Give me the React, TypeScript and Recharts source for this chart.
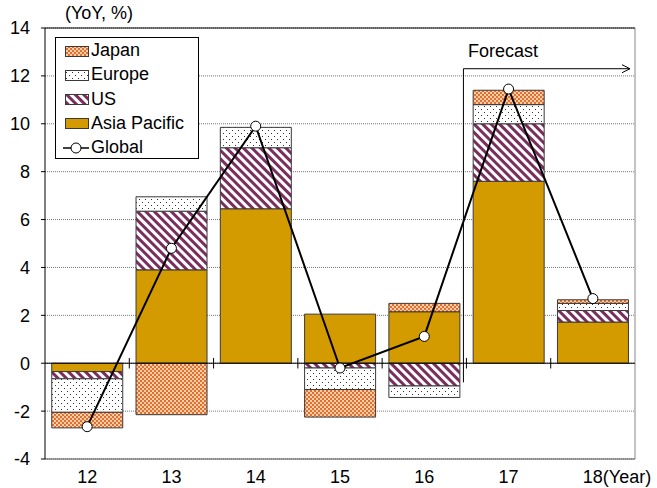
import React from 'react';
import { ComposedChart, Bar, Line, XAxis, YAxis, CartesianGrid, ReferenceLine, ReferenceArea } from 'recharts';

const years = ['12', '13', '14', '15', '16', '17', '18'];
const asiaPacific = [-0.35, 3.9, 6.45, 2.05, 2.15, 7.6, 1.72];
const us = [-0.3, 2.45, 2.55, -0.2, -0.95, 2.4, 0.48];
const europe = [-1.4, 0.6, 0.85, -0.9, -0.48, 0.8, 0.3];
const japan = [-0.65, -2.15, 0, -1.15, 0.35, 0.6, 0.15];
const global = [-2.65, 4.8, 9.9, -0.2, 1.12, 11.45, 2.7];
const yTicks = [-4, -2, 0, 2, 4, 6, 8, 10, 12, 14];
const forecastYears = ['17', '18'];

const data = years.map((year, i) => ({
  year,
  asiaPacific: asiaPacific[i],
  us: us[i],
  europe: europe[i],
  japan: japan[i],
  global: global[i],
}));

const FONT = '"Liberation Sans", Arial, sans-serif';
const FS = 18;
const EDGE = '#3a3a3a';

const Patterns = () => (
  <svg width={0} height={0} style={{ position: 'absolute' }}>
    <defs>
      <pattern id="pJapan" width={4} height={4} patternUnits="userSpaceOnUse">
        <rect width={4} height={4} fill="#f7cfae" />
        <rect x={0} y={0} width={2} height={2} fill="#e2702b" />
        <rect x={2} y={2} width={2} height={2} fill="#e2702b" />
      </pattern>
      <pattern id="pEurope" width={6} height={6} patternUnits="userSpaceOnUse">
        <rect width={6} height={6} fill="#fff" />
        <rect x={1} y={1} width={1} height={1} fill="#333" />
        <rect x={4} y={4} width={1} height={1} fill="#333" />
      </pattern>
      <pattern id="pUS" width={6} height={6} patternUnits="userSpaceOnUse" patternTransform="rotate(-45)">
        <rect width={6} height={6} fill="#fff" />
        <rect x={0} y={0} width={3} height={6} fill="#7a2e5e" />
      </pattern>
      <marker id="arrowHead" markerWidth={10} markerHeight={10} refX={9} refY={5} orient="auto" markerUnits="userSpaceOnUse">
        <path d="M1,1 L9,5 L1,9" fill="none" stroke="#000" strokeWidth={1} />
      </marker>
    </defs>
  </svg>
);

const YearTick = (props: any) => {
  const { x, y, payload, index } = props;
  const last = index === years.length - 1;
  return (
    <text
      x={last ? x - 10 : x}
      y={y}
      dy="0.71em"
      textAnchor={last ? 'start' : 'middle'}
      fill="#000"
      fontSize={FS}
      fontFamily={FONT}
    >
      {last ? `${payload.value}(Year)` : payload.value}
    </text>
  );
};

// left edge of a category band, used for the tick marks on the zero line
const leftEdge = (p: any) => (
  <line x1={p.x} y1={p.y} x2={p.x} y2={p.y + p.height} stroke="#000" strokeWidth={1} />
);

const rightEdge = (p: any) => (
  <line x1={p.x + p.width} y1={p.y} x2={p.x + p.width} y2={p.y + p.height} stroke="#888" strokeWidth={1} />
);

// forecast bracket: vertical line on the left, arrow along the top
const bracket = (p: any) => (
  <g>
    <line x1={p.x - 3} y1={p.y} x2={p.x - 3} y2={p.y + p.height} stroke="#000" strokeWidth={1} />
    <path
      d={`M${p.x - 3},${p.y}L${p.x + p.width - 5},${p.y}`}
      stroke="#000"
      strokeWidth={1}
      fill="none"
      markerEnd="url(#arrowHead)"
    />
  </g>
);

const legendItems = [
  { label: 'Japan', fill: 'url(#pJapan)' },
  { label: 'Europe', fill: 'url(#pEurope)' },
  { label: 'US', fill: 'url(#pUS)' },
  { label: 'Asia Pacific', fill: '#d39b00' },
  { label: 'Global', fill: null },
];

const LegendBox = () => (
  <div
    style={{
      position: 'absolute',
      left: 55,
      top: 37,
      width: 142,
      height: 120,
      border: '1px solid #000',
      background: '#fff',
      fontFamily: FONT,
      fontSize: FS,
    }}
  >
    {legendItems.map((item, i) => (
      <div
        key={item.label}
        style={{ position: 'absolute', left: 6, top: 1.5 + i * 24.3, height: 22, display: 'flex', alignItems: 'center' }}
      >
        <svg width={28} height={14} style={{ marginRight: 1 }}>
          {item.fill ? (
            <rect x={3.5} y={2.5} width={23} height={10} fill={item.fill} stroke={EDGE} strokeWidth={1} />
          ) : (
            <g>
              <line x1={1} y1={7} x2={27} y2={7} stroke="#000" strokeWidth={1.5} />
              <circle cx={14} cy={7} r={5} fill="#fff" stroke="#000" strokeWidth={1} />
            </g>
          )}
        </svg>
        <span style={{ color: '#000' }}>{item.label}</span>
      </div>
    ))}
  </div>
);

const App: React.FC = () => {
  return (
    <div style={{ position: 'absolute', left: 0, top: 0, width: 657, height: 488, background: '#fff' }}>
      <Patterns />
      <ComposedChart
        width={657}
        height={488}
        data={data}
        stackOffset="sign"
        barCategoryGap="8%"
        margin={{ top: 28, right: 22, bottom: 0, left: 0 }}
      >
        <CartesianGrid vertical={false} stroke="#777" strokeDasharray="1 1" />
        <XAxis
          dataKey="year"
          height={29}
          axisLine={{ stroke: '#555' }}
          tickLine={false}
          tickSize={6}
          tickMargin={5}
          tick={<YearTick />}
          interval={0}
        />
        <YAxis
          width={45}
          domain={[-4, 14]}
          ticks={yTicks}
          interval={0}
          axisLine={{ stroke: '#000' }}
          tickLine={{ stroke: '#000' }}
          tickSize={4}
          tickMargin={11}
          tick={{ fill: '#000', fontSize: FS, fontFamily: FONT }}
        />
        <ReferenceLine y={14} stroke="#000" />
        <ReferenceArea
          x1={years[years.length - 1]}
          x2={years[years.length - 1]}
          y1={-4}
          y2={14}
          ifOverflow="visible"
          shape={rightEdge}
        />
        <Bar dataKey="asiaPacific" stackId="a" fill="#d39b00" stroke={EDGE} strokeWidth={1} isAnimationActive={false} />
        <Bar dataKey="us" stackId="a" fill="url(#pUS)" stroke={EDGE} strokeWidth={1} isAnimationActive={false} />
        <Bar dataKey="europe" stackId="a" fill="url(#pEurope)" stroke={EDGE} strokeWidth={1} isAnimationActive={false} />
        <Bar dataKey="japan" stackId="a" fill="url(#pJapan)" stroke={EDGE} strokeWidth={1} isAnimationActive={false} />
        <ReferenceLine y={0} stroke="#000" strokeWidth={1} />
        {years.slice(1).map((yr) => (
          <ReferenceArea key={yr} x1={yr} x2={yr} y1={-0.22} y2={0.22} ifOverflow="visible" shape={leftEdge} />
        ))}
        <ReferenceArea
          x1={forecastYears[0]}
          x2={forecastYears[forecastYears.length - 1]}
          y1={-0.8}
          y2={12.3}
          ifOverflow="visible"
          shape={bracket}
        />
        <Line
          dataKey="global"
          stroke="#000"
          strokeWidth={2}
          dot={{ r: 5, fill: '#fff', stroke: '#000', strokeWidth: 1 }}
          isAnimationActive={false}
        />
      </ComposedChart>
      <LegendBox />
      <div style={{ position: 'absolute', left: 65, top: 3, fontFamily: FONT, fontSize: FS, color: '#000' }}>(YoY, %)</div>
      <div style={{ position: 'absolute', left: 468, top: 41, fontFamily: FONT, fontSize: FS, color: '#000' }}>Forecast</div>
    </div>
  );
};

export default App;
